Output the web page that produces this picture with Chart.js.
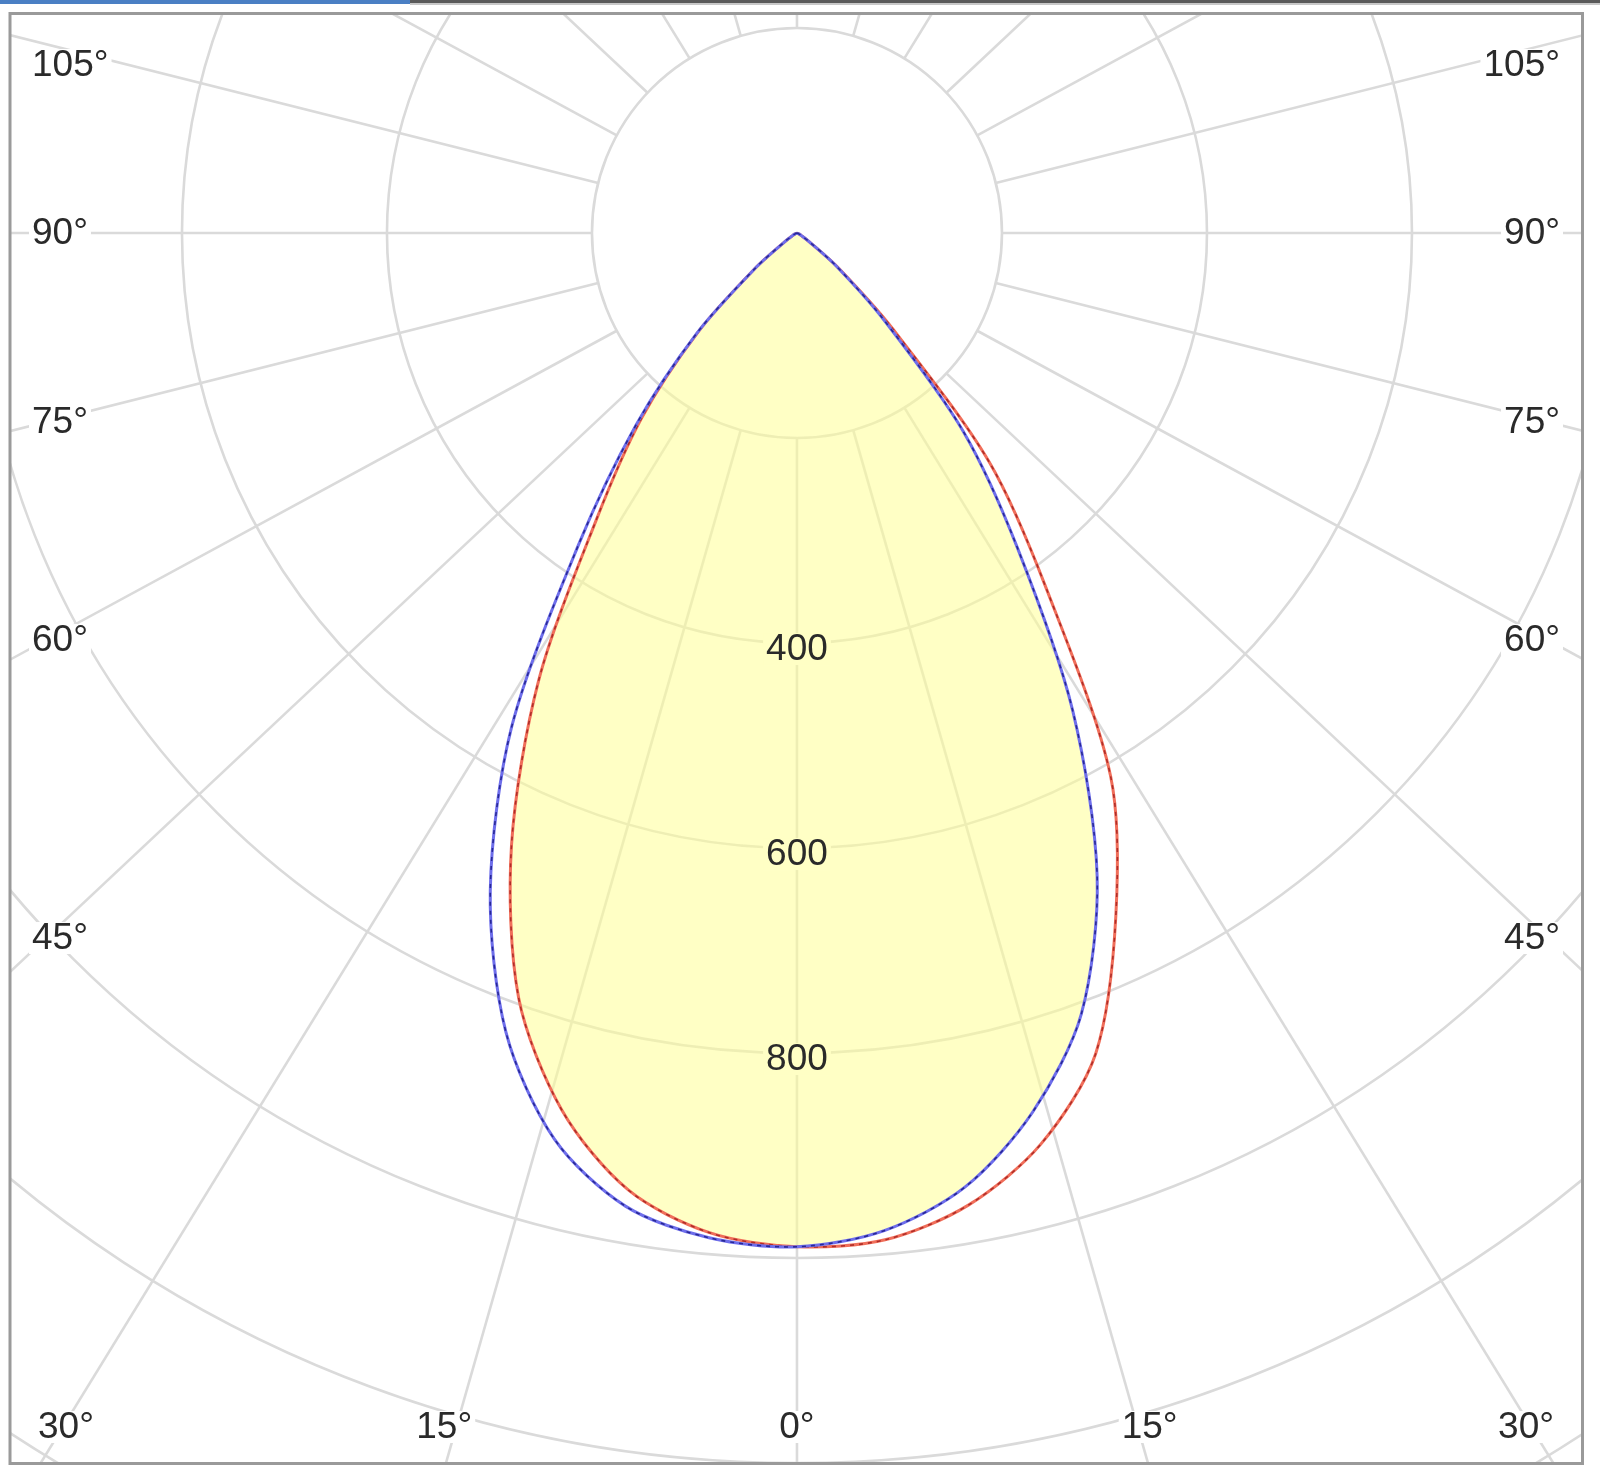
<!DOCTYPE html>
<html>
<head>
<meta charset="utf-8">
<script src="https://cdn.jsdelivr.net/npm/chart.js@4.4.1/dist/chart.umd.min.js"></script>
<style>
html,body{margin:0;padding:0;background:#fff;}
#wrap{position:relative;width:1600px;height:1478px;overflow:hidden;background:#fff;}
#c{position:absolute;left:0;top:0;}
.bar1{position:absolute;left:0;top:0;width:410px;height:4px;background:#4a7fc4;}
.bar2{position:absolute;left:410px;top:0;width:1190px;height:3px;background:#5a5a5a;}
.bar3{position:absolute;left:410px;top:3px;width:1190px;height:2px;background:#c8c8c8;}
</style>
</head>
<body>
<div id="wrap">
<canvas id="c" width="1600" height="1478"></canvas>
<div class="bar1"></div><div class="bar2"></div><div class="bar3"></div>
</div>
<script>
// Angles from nadir (degrees)
const angles = [0,5,10,15,20,25,30,35,40,45,50,55,60,65,70,75,80,85,90];
// Luminous intensity (cd)
const blueLeft  = [989,984,964,915,830,708,557,372,244,138,52,14,5,2,0,0,0,0,0];
const blueRight = [989,977,945,888,811,693,538,375,252,120,50,14,5,2,0,0,0,0,0];
const redLeft   = [989,979,948,886,794,659,504,341,236,136,52,14,5,2,0,0,0,0,0];
const redRight  = [989,986,963,920,852,736,612,425,292,132,52,14,5,2,0,0,0,0,0];

// Grid
const ringValues = [200,400,600,800,1000,1200,1400];
const ringLabels = [400,600,800];
const spokeAngles = [0,15,30,45,60,75,90,105,120,135,150,165,180,195,210,225,240,255,270,285,300,315,330,345];
const angleLabelValues = [0,15,30,45,60,75,90,105];

// Axis ranges (cd)
const xRange = [-766.8, 764.9];
const yRange = [-1199.0, 213.7];

const SPOKE_STRETCH = 1.065;
const FONT = '37px "Liberation Sans", Arial, sans-serif';
const TEXT_COLOR = '#2a2a2a';

function halfCurve(vals, side) {
  return angles.map((a, i) => {
    const t = a * Math.PI / 180;
    return { x: side * vals[i] * Math.sin(t), y: -vals[i] * Math.cos(t) };
  });
}
function fullCurve(leftVals, rightVals) {
  const left = halfCurve(leftVals, -1).reverse();
  const right = halfCurve(rightVals, 1).slice(1);
  return left.concat(right);
}

const blueData = fullCurve(blueLeft, blueRight);
const redData = fullCurve(redLeft, redRight);
const fillData = fullCurve(redLeft, blueRight);

const polarPlugin = {
  id: 'polarGrid',
  beforeDatasetsDraw(chart) {
    const ctx = chart.ctx, a = chart.chartArea;
    const xs = chart.scales.x, ys = chart.scales.y;
    const cx = xs.getPixelForValue(0), cy = ys.getPixelForValue(0);
    const k = xs.getPixelForValue(1) - cx;
    ctx.save();
    ctx.beginPath();
    ctx.rect(a.left, a.top, a.right - a.left, a.bottom - a.top);
    ctx.clip();
    ctx.strokeStyle = 'rgb(218,218,218)';
    ctx.lineWidth = 2.6;
    ringValues.forEach(r => {
      ctx.beginPath();
      ctx.arc(cx, cy, r * k, 0, Math.PI * 2);
      ctx.stroke();
    });
    const r0 = ringValues[0] * k;
    spokeAngles.forEach(deg => {
      const t = deg * Math.PI / 180;
      let dx = Math.sin(t) * SPOKE_STRETCH, dy = Math.cos(t);
      const n = Math.hypot(dx, dy); dx /= n; dy /= n;
      ctx.beginPath();
      ctx.moveTo(cx + dx * r0, cy + dy * r0);
      ctx.lineTo(cx + dx * 4000, cy + dy * 4000);
      ctx.stroke();
    });
    ctx.restore();
  },
  afterDatasetsDraw(chart) {
    const ctx = chart.ctx, a = chart.chartArea;
    const xs = chart.scales.x, ys = chart.scales.y;
    const cx = xs.getPixelForValue(0), cy = ys.getPixelForValue(0);
    const k = xs.getPixelForValue(1) - cx;
    ctx.save();
    ctx.font = FONT;
    ctx.textBaseline = 'middle';
    const H = 32;
    // value labels on the nadir axis
    ringLabels.forEach(v => {
      const txt = String(v);
      const w = ctx.measureText(txt).width;
      const x = cx, y = cy + v * k + 6;
      ctx.fillStyle = 'rgb(255,255,197)';
      ctx.fillRect(x - w / 2 - 3, y - H / 2, w + 6, H);
      ctx.fillStyle = TEXT_COLOR;
      ctx.textAlign = 'center';
      ctx.fillText(txt, x, y + 1);
    });
    // angle labels
    const sideOffset = 705;
    const T = a.top + 51, B = a.bottom - 35;
    const textL = a.left + 21, textR = a.right - 21;
    const botL = a.left + 27, botR = a.right - 27;
    angleLabelValues.forEach(deg => {
      const sides = deg === 0 ? [1] : [-1, 1];
      sides.forEach(side => {
        const t = deg * Math.PI / 180;
        const sx = Math.sin(t), cy0 = Math.cos(t);
        const txt = deg + '°';
        const w = ctx.measureText(txt).width;
        const dxs = side * sx * SPOKE_STRETCH;
        const tyB = cy0 > 1e-9 ? (B - cy) / cy0 : Infinity;
        const txS = Math.abs(dxs) > 1e-9 ? (sideOffset + 40) / Math.abs(dxs) : Infinity;
        let x0, y;
        if (cy0 > 1e-9 && tyB <= txS) {
          let x = cx + dxs * tyB + side * (deg === 0 ? 0 : 12);
          x = Math.max(botL + w / 2, Math.min(botR - w / 2, x));
          x0 = x - w / 2; y = B;
        } else {
          const tx = Math.abs(sx) > 1e-9 ? sideOffset / Math.abs(sx) : Infinity;
          y = cy + cy0 * tx;
          y = Math.max(T, Math.min(B, y));
          x0 = side < 0 ? textL : textR - w;
        }
        ctx.fillStyle = '#fff';
        ctx.fillRect(x0 - 3, y - H / 2, w + 6, H);
        ctx.fillStyle = TEXT_COLOR;
        ctx.textAlign = 'left';
        ctx.fillText(txt, x0, y + 1);
      });
    });
    ctx.restore();
  },
  afterDraw(chart) {
    const ctx = chart.ctx, a = chart.chartArea;
    ctx.save();
    ctx.strokeStyle = '#9a9a9a';
    ctx.lineWidth = 3;
    ctx.strokeRect(a.left - 1, a.top - 0.5, a.right - a.left + 2.5, a.bottom - a.top + 2);
    ctx.restore();
  }
};

const lineBase = { showLine: true, pointRadius: 0, tension: 0.3, borderJoinStyle: 'round', fill: false };

new Chart(document.getElementById('c'), {
  type: 'scatter',
  data: {
    datasets: [
      Object.assign({}, lineBase, { label: 'C0-C180 dash', data: blueData, borderColor: 'rgb(40,40,150)', borderWidth: 1.6, borderDash: [4, 5], order: 0 }),
      Object.assign({}, lineBase, { label: 'C0-C180', data: blueData, borderColor: 'rgb(110,110,235)', borderWidth: 3, order: 1 }),
      Object.assign({}, lineBase, { label: 'C90-C270 dash', data: redData, borderColor: 'rgb(175,45,40)', borderWidth: 1.6, borderDash: [4, 5], order: 2 }),
      Object.assign({}, lineBase, { label: 'C90-C270', data: redData, borderColor: 'rgb(240,110,90)', borderWidth: 3, order: 3 }),
      Object.assign({}, lineBase, { label: 'fill', data: fillData, borderWidth: 0, borderColor: 'rgba(0,0,0,0)', backgroundColor: 'rgba(255,255,150,0.55)', fill: 'shape', order: 4 })
    ]
  },
  options: {
    responsive: false,
    maintainAspectRatio: false,
    animation: false,
    devicePixelRatio: 1,
    events: [],
    layout: { padding: { left: 11, right: 19, top: 14, bottom: 16 } },
    scales: {
      x: { type: 'linear', min: xRange[0], max: xRange[1], display: false },
      y: { type: 'linear', min: yRange[0], max: yRange[1], display: false }
    },
    plugins: { legend: { display: false }, tooltip: { enabled: false }, title: { display: false } }
  },
  plugins: [polarPlugin]
});
</script>
</body>
</html>
